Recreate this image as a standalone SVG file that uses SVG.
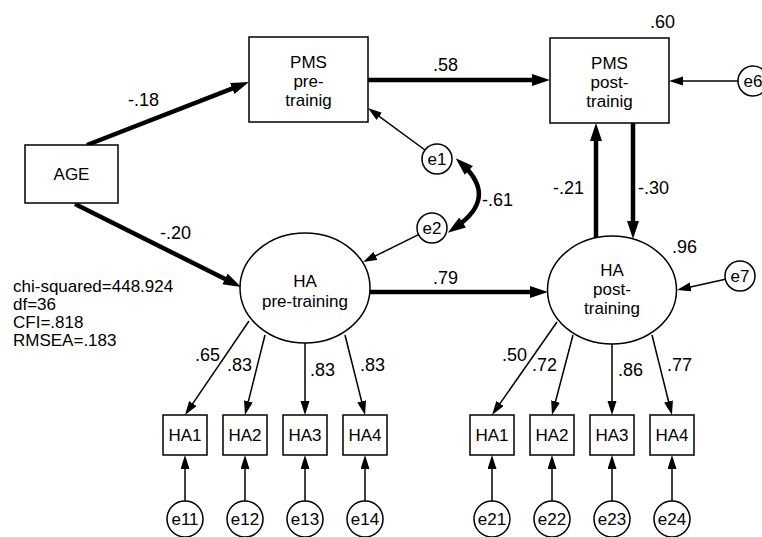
<svg xmlns="http://www.w3.org/2000/svg" width="762" height="537" viewBox="0 0 762 537">
<style>
  .box{fill:#fff;stroke:#000;stroke-width:1.5}
  .t{font-family:"Liberation Sans",Arial,sans-serif;font-size:17px;fill:#000;text-anchor:middle}
  .lb{font-family:"Liberation Sans",Arial,sans-serif;font-size:18px;fill:#000}
  .fit{font-family:"Liberation Sans",Arial,sans-serif;font-size:17px;fill:#000}
  .thick{stroke:#000;stroke-width:4.5;fill:none;marker-end:url(#ah)}
  .thin{stroke:#000;stroke-width:1.5;fill:none;marker-end:url(#as)}
</style>
<defs>
  <marker id="ah" markerUnits="userSpaceOnUse" markerWidth="20" markerHeight="14" refX="8" refY="6" orient="auto-start-reverse">
    <path d="M0,0 L18,6 L0,12 z" fill="#000"/>
  </marker>
  <marker id="as" markerUnits="userSpaceOnUse" markerWidth="16" markerHeight="10" refX="6" refY="4.5" orient="auto">
    <path d="M0,0 L14,4.5 L0,9 z" fill="#000"/>
  </marker>
</defs>
<rect width="762" height="537" fill="#fff"/>

<g id="connectors">
  <line class="thick" x1="87" y1="145" x2="239.7" y2="85.6"/>
  <line class="thick" x1="75" y1="204" x2="232.1" y2="282.5"/>
  <line class="thick" x1="368" y1="80" x2="540" y2="80"/>
  <line class="thick" x1="370" y1="292" x2="538" y2="292"/>
  <line class="thick" x1="596" y1="238" x2="596" y2="133"/>
  <line class="thick" x1="633" y1="123" x2="633" y2="229"/>
  <path d="M463,165 Q498,198 456,227" stroke="#000" stroke-width="4.5" fill="none" marker-start="url(#ah)" marker-end="url(#ah)"/>
  <line class="thin" x1="425" y1="150" x2="374.4" y2="112.8"/>
  <line class="thin" x1="418.5" y1="234.6" x2="370.2" y2="258.5"/>
  <line class="thin" x1="738" y1="81" x2="677" y2="81"/>
  <line class="thin" x1="725.4" y1="279.3" x2="684.8" y2="288.3"/>
  <line class="thin" x1="249" y1="321" x2="189.5" y2="408.4"/>
  <line class="thin" x1="265" y1="335" x2="246.9" y2="407.2"/>
  <line class="thin" x1="305" y1="343" x2="305" y2="407"/>
  <line class="thin" x1="345" y1="335" x2="363.1" y2="407.2"/>
  <line class="thin" x1="557" y1="322" x2="496.6" y2="408.4"/>
  <line class="thin" x1="573" y1="335" x2="554" y2="407.3"/>
  <line class="thin" x1="612" y1="344" x2="612" y2="407"/>
  <line class="thin" x1="652" y1="335" x2="670" y2="407.3"/>
  <line class="thin" x1="185" y1="501" x2="185" y2="463"/>
  <line class="thin" x1="245" y1="501" x2="245" y2="463"/>
  <line class="thin" x1="305" y1="501" x2="305" y2="463"/>
  <line class="thin" x1="365" y1="501" x2="365" y2="463"/>
  <line class="thin" x1="492" y1="501" x2="492" y2="463"/>
  <line class="thin" x1="552" y1="501" x2="552" y2="463"/>
  <line class="thin" x1="612" y1="501" x2="612" y2="463"/>
  <line class="thin" x1="672" y1="501" x2="672" y2="463"/>
</g>

<g id="labels">
  <text class="lb" x="128" y="106">-.18</text>
  <text class="lb" x="160" y="239">-.20</text>
  <text class="lb" x="433" y="71">.58</text>
  <text class="lb" x="650" y="28">.60</text>
  <text class="lb" x="553" y="194">-.21</text>
  <text class="lb" x="638" y="194">-.30</text>
  <text class="lb" x="672" y="253">.96</text>
  <text class="lb" x="433" y="284">.79</text>
  <text class="lb" x="482" y="206">-.61</text>
  <text class="lb" x="195" y="361">.65</text>
  <text class="lb" x="227" y="371">.83</text>
  <text class="lb" x="310" y="376">.83</text>
  <text class="lb" x="360" y="371">.83</text>
  <text class="lb" x="502" y="361">.50</text>
  <text class="lb" x="532" y="371">.72</text>
  <text class="lb" x="618" y="376">.86</text>
  <text class="lb" x="667" y="371">.77</text>
  <text class="fit" x="13" y="292">chi-squared=448.924</text>
  <text class="fit" x="13" y="310">df=36</text>
  <text class="fit" x="13" y="328">CFI=.818</text>
  <text class="fit" x="13" y="346">RMSEA=.183</text>
</g>

<g id="AGE"><rect class="box" x="25" y="145" width="93" height="58"/><text class="t" x="71.5" y="180">AGE</text></g>
<g id="PMS_pre"><rect class="box" x="249" y="37" width="119" height="85"/>
  <text class="t" x="308.5" y="68">PMS</text><text class="t" x="308.5" y="87">pre-</text><text class="t" x="308.5" y="106">trainig</text></g>
<g id="PMS_post"><rect class="box" x="550" y="38" width="119" height="85"/>
  <text class="t" x="609.5" y="69">PMS</text><text class="t" x="609.5" y="88">post-</text><text class="t" x="609.5" y="107">trainig</text></g>
<g id="HA_pre"><ellipse class="box" cx="305" cy="288" rx="65" ry="55"/>
  <text class="t" x="305" y="287">HA</text><text class="t" x="305" y="307">pre-training</text></g>
<g id="HA_post"><ellipse class="box" cx="612" cy="290" rx="64.5" ry="54"/>
  <text class="t" x="612" y="276">HA</text><text class="t" x="612" y="295">post-</text><text class="t" x="612" y="314">training</text></g>

<g id="e1"><circle class="box" cx="437" cy="159" r="15"/><text class="t" x="437" y="165">e1</text></g>
<g id="e2"><circle class="box" cx="432" cy="228" r="15"/><text class="t" x="432" y="234">e2</text></g>
<g id="e6"><circle class="box" cx="753" cy="81" r="15"/><text class="t" x="753" y="87">e6</text></g>
<g id="e7"><circle class="box" cx="740" cy="276" r="15"/><text class="t" x="740" y="282">e7</text></g>

<g id="HA1_pre"><rect class="box" x="163" y="415" width="44" height="40"/><text class="t" x="185" y="441">HA1</text></g>
<g id="HA2_pre"><rect class="box" x="223" y="415" width="44" height="40"/><text class="t" x="245" y="441">HA2</text></g>
<g id="HA3_pre"><rect class="box" x="283" y="415" width="44" height="40"/><text class="t" x="305" y="441">HA3</text></g>
<g id="HA4_pre"><rect class="box" x="343" y="415" width="44" height="40"/><text class="t" x="365" y="441">HA4</text></g>
<g id="HA1_post"><rect class="box" x="470" y="415" width="44" height="40"/><text class="t" x="492" y="441">HA1</text></g>
<g id="HA2_post"><rect class="box" x="530" y="415" width="44" height="40"/><text class="t" x="552" y="441">HA2</text></g>
<g id="HA3_post"><rect class="box" x="590" y="415" width="44" height="40"/><text class="t" x="612" y="441">HA3</text></g>
<g id="HA4_post"><rect class="box" x="650" y="415" width="44" height="40"/><text class="t" x="672" y="441">HA4</text></g>

<g id="e11"><circle class="box" cx="185" cy="519" r="18"/><text class="t" x="185" y="525">e11</text></g>
<g id="e12"><circle class="box" cx="245" cy="519" r="18"/><text class="t" x="245" y="525">e12</text></g>
<g id="e13"><circle class="box" cx="305" cy="519" r="18"/><text class="t" x="305" y="525">e13</text></g>
<g id="e14"><circle class="box" cx="365" cy="519" r="18"/><text class="t" x="365" y="525">e14</text></g>
<g id="e21"><circle class="box" cx="492" cy="519" r="18"/><text class="t" x="492" y="525">e21</text></g>
<g id="e22"><circle class="box" cx="552" cy="519" r="18"/><text class="t" x="552" y="525">e22</text></g>
<g id="e23"><circle class="box" cx="612" cy="519" r="18"/><text class="t" x="612" y="525">e23</text></g>
<g id="e24"><circle class="box" cx="672" cy="519" r="18"/><text class="t" x="672" y="525">e24</text></g>
</svg>
